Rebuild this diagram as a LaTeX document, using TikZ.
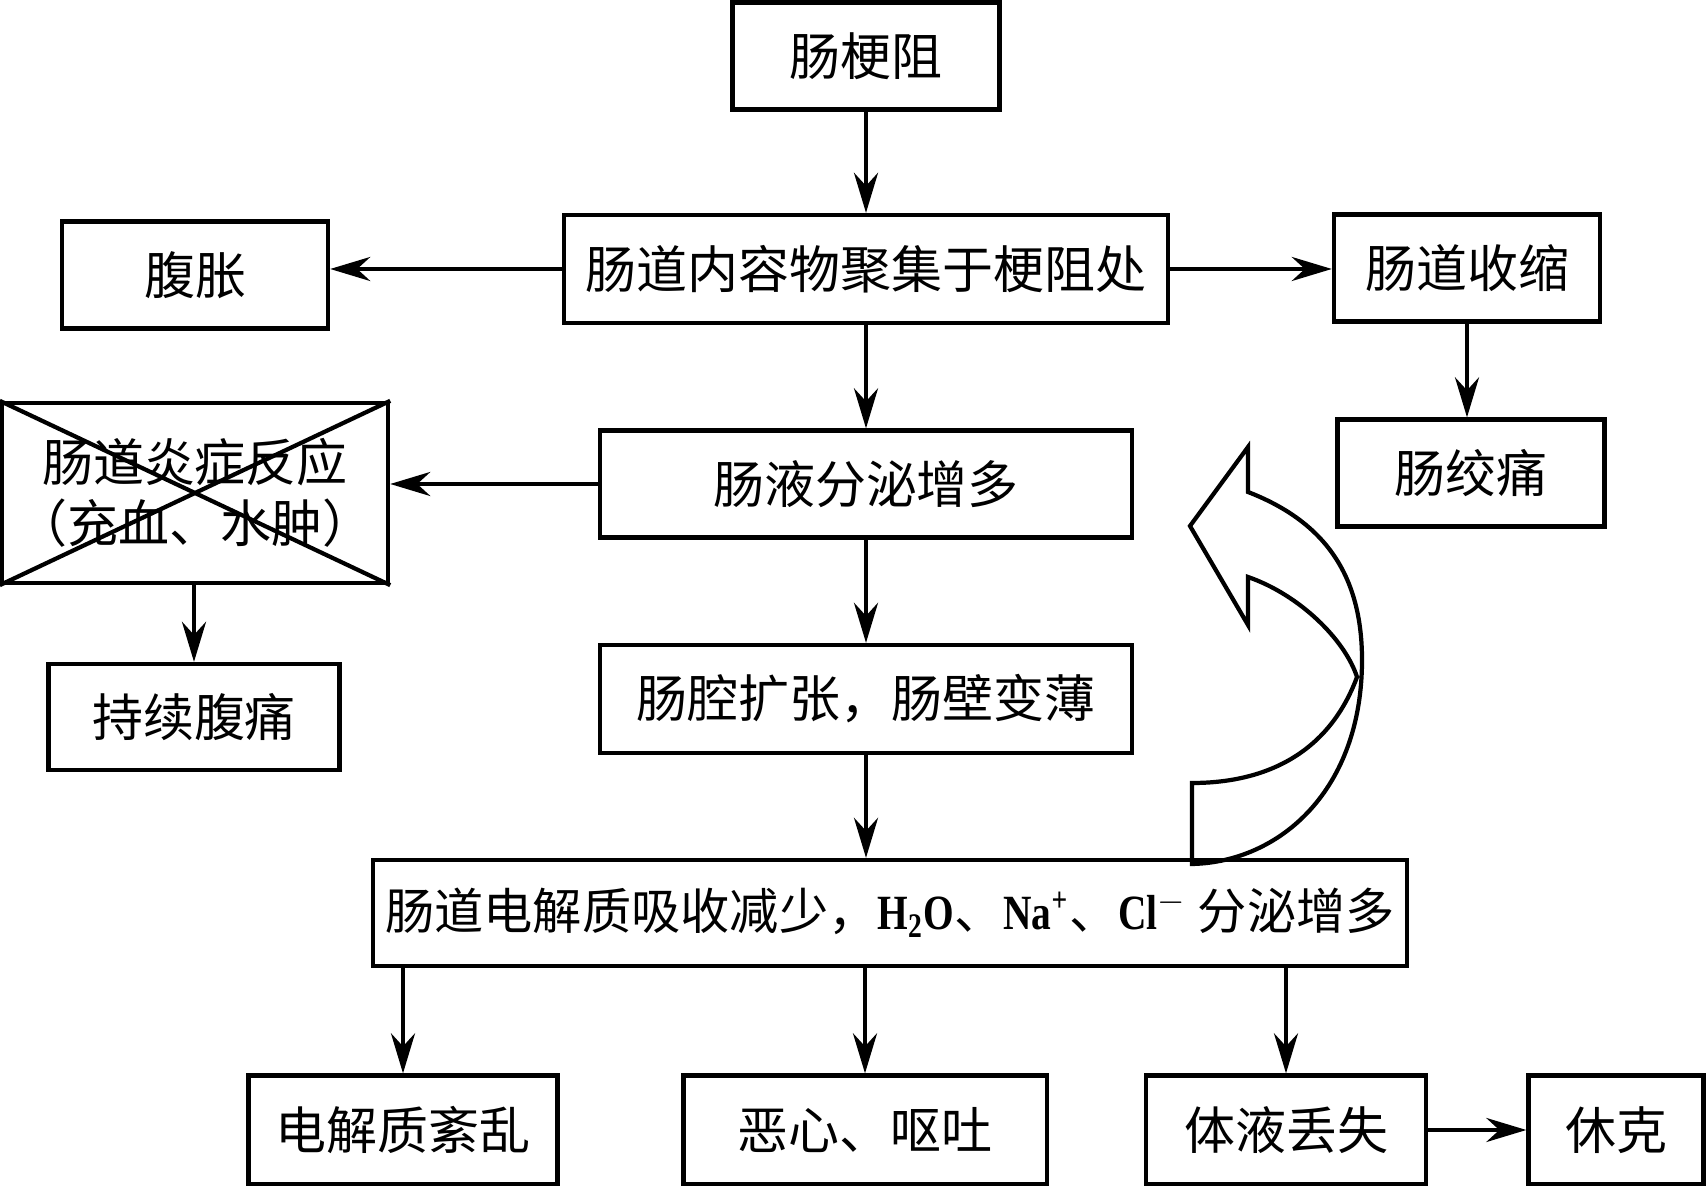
\documentclass[tikz,border=0pt]{standalone}
\usepackage{fontspec}
\setmainfont{Liberation Serif}
\newfontfamily\cjk{Noto Sans CJK SC}
\newfontfamily\latin[FakeStretch=0.8]{Liberation Serif}
\usepackage{tikz}
\usetikzlibrary{arrows.meta,calc}
\tikzset{
	>={Stealth[length=0.4cm,width=0.24cm,inset=0.13cm]},
	box/.style={draw, line width=1.2pt, inner sep=0pt, align=center,
		font=\cjk\fontsize{14.5}{17.5}\selectfont},
	flow/.style={->, line width=1.2pt}
}

\begin{document}
\begin{tikzpicture}[x=0.01cm,y=-0.01cm]
		\useasboundingbox (0,0) rectangle (1706,1186);
		% boxes
		\node[box, minimum width=2.67cm, minimum height=1.07cm] (zuse) at (866,56) {肠梗阻};
		\node[box, minimum width=6.03cm, minimum height=1.08cm] (juji) at (866,269) {肠道内容物聚集于梗阻处};
		\node[box, minimum width=2.66cm, minimum height=1.07cm] (fuzhang) at (195,275) {腹胀};
		\node[box, minimum width=2.66cm, minimum height=1.07cm] (shousuo) at (1467,268) {肠道收缩};
		\node[box, minimum width=2.67cm, minimum height=1.07cm] (jiaotong) at (1471,473) {肠绞痛};
		\node[box, minimum width=5.31cm, minimum height=1.07cm] (fenmi) at (866,484) {肠液分泌增多};
		\node[box, minimum width=3.86cm, minimum height=1.80cm] (yanzheng) at (195,493) {肠道炎症反应\\（充血、水肿）};
		\node[box, minimum width=2.91cm, minimum height=1.06cm] (futong) at (194,717) {持续腹痛};
		\node[box, minimum width=5.31cm, minimum height=1.08cm] (kuozhang) at (866,699) {肠腔扩张，肠壁变薄};
		\node[box, minimum width=10.34cm, minimum height=1.06cm, font=\cjk\fontsize{14}{17}\selectfont] (dianjie) at (890,913)
			{肠道电解质吸收减少，{\latin\bfseries H\textsubscript{2}O}、{\latin\bfseries Na\textsuperscript{+}}、{\latin\bfseries Cl\textsuperscript{$-$}} 分泌增多};
		\node[box, minimum width=3.09cm, minimum height=1.09cm] (wenluan) at (403,1130) {电解质紊乱};
		\node[box, minimum width=3.63cm, minimum height=1.09cm] (outu) at (865,1130) {恶心、呕吐};
		\node[box, minimum width=2.80cm, minimum height=1.09cm] (diushi) at (1286,1130) {体液丢失};
		\node[box, minimum width=1.75cm, minimum height=1.09cm] (xiuke) at (1616,1130) {休克};
		
		% cross over the inflammation box
		\draw[line width=1.2pt] (yanzheng.north west) -- (yanzheng.south east);
		\draw[line width=1.2pt] (yanzheng.south west) -- (yanzheng.north east);
		
		% arrows
		\draw[flow] (zuse) -- (juji);
		\draw[flow] (juji.west) -- (juji.west -| fuzhang.east);
		\draw[flow] (juji.east) -- (juji.east -| shousuo.west);
		\draw[flow] (shousuo.south) -- (shousuo.south |- jiaotong.north);
		\draw[flow] (juji) -- (fenmi);
		\draw[flow] (fenmi.west) -- (fenmi.west -| yanzheng.east);
		\draw[flow] (yanzheng.south -| futong) -- (futong);
		\draw[flow] (fenmi) -- (kuozhang);
		\draw[flow] (kuozhang.south) -- (kuozhang.south |- dianjie.north);
		\draw[flow] (dianjie.south -| wenluan) -- (wenluan);
		\draw[flow] (dianjie.south -| outu) -- (outu);
		\draw[flow] (dianjie.south -| diushi) -- (diushi);
		\draw[flow] (diushi) -- (xiuke);
		
		% big curved arrow back up
		\draw[line width=1.2pt, line join=miter]
			(1192,864) -- (1192,783)
			.. controls (1270,783) and (1330,750) .. (1357,677)
			.. controls (1345,640) and (1300,595) .. (1248,577)
			-- (1248,625) -- (1190,526) -- (1248,447) -- (1248,492)
			.. controls (1320,520) and (1362,570) .. (1362,660)
			.. controls (1362,790) and (1280,862) .. cycle;
	\end{tikzpicture}
\end{document}
